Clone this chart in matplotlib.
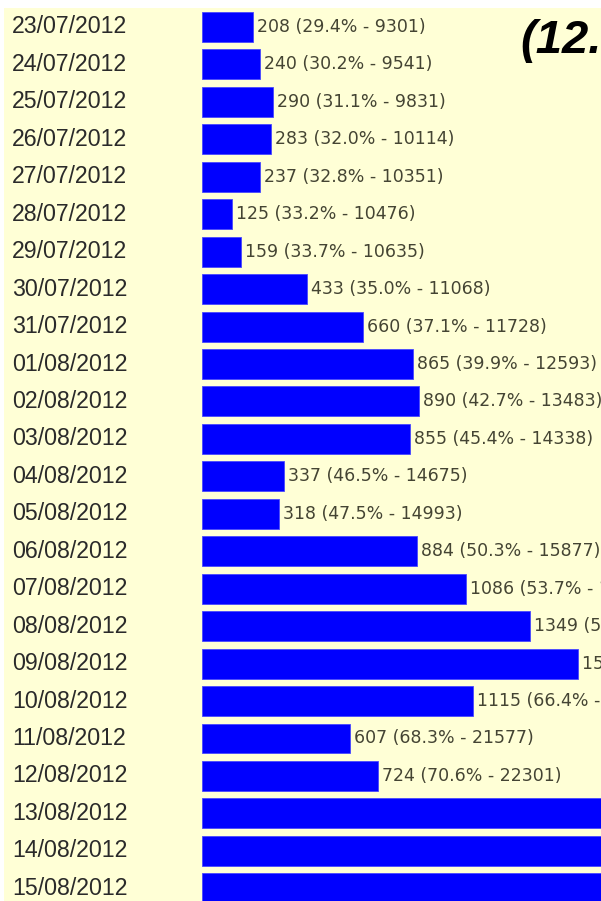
import matplotlib
matplotlib.use('Agg')
import matplotlib.pyplot as plt
import matplotlib.transforms as mtransforms

# daily values, cut off at the right like the reference
dates = ['23/07/2012', '24/07/2012', '25/07/2012', '26/07/2012', '27/07/2012',
         '28/07/2012', '29/07/2012', '30/07/2012', '31/07/2012', '01/08/2012',
         '02/08/2012', '03/08/2012', '04/08/2012', '05/08/2012', '06/08/2012',
         '07/08/2012', '08/08/2012', '09/08/2012', '10/08/2012', '11/08/2012',
         '12/08/2012', '13/08/2012', '14/08/2012', '15/08/2012']
values = [208, 240, 290, 283, 237, 125, 159, 433, 660, 865, 890, 855, 337,
          318, 884, 1086, 1349, 1543, 1115, 607, 724, 2300, 2100, 1950]
prior_total = 9093
grand_total = 31590
title_text = '(12.'

W, H = 601, 901
cream = '#FFFFD6'
fig = plt.figure(figsize=(W / 100, H / 100), dpi=100)
fig.patch.set_facecolor('white')

top = (H - 8) / H
bg = fig.add_axes([4 / W, 0, 1 - 4 / W, top])
bg.set_facecolor(cream)
bg.set_xticks([])
bg.set_yticks([])
for s in bg.spines.values():
    s.set_visible(False)

ax = fig.add_axes([202 / W, 0, 1 - 202 / W, top])
ax.patch.set_alpha(0)
ax.axis('off')

pos = list(range(len(dates)))
ax.barh(pos, values, height=0.8, color='#0000FF', edgecolor='#4848ff', linewidth=0.6)
ax.set_xlim(0, 1639)
ax.set_ylim(23.34, -0.507)

trans = mtransforms.blended_transform_factory(fig.transFigure, ax.transData)
cum = prior_total
for i, (d, v) in enumerate(zip(dates, values)):
    cum += v
    ax.text(12 / W, i, d, transform=trans, ha='left', va='center',
            fontsize=16.7, family='Liberation Sans', color='#2a2a2a', clip_on=False)
    lab = '%d (%.1f%% - %d)' % (v, 100.0 * cum / grand_total, cum)
    ax.annotate(lab, (v, i), xytext=(4, 0), textcoords='offset pixels',
                ha='left', va='center', fontsize=12.5, family='DejaVu Sans',
                color='#444433', annotation_clip=False)

fig.text(520 / W, 1 - 41 / H, title_text, ha='left', va='center', fontsize=34,
         family='Liberation Sans', fontweight='bold', fontstyle='italic', color='black')

fig.savefig('out.png', dpi=100, facecolor=fig.get_facecolor())
